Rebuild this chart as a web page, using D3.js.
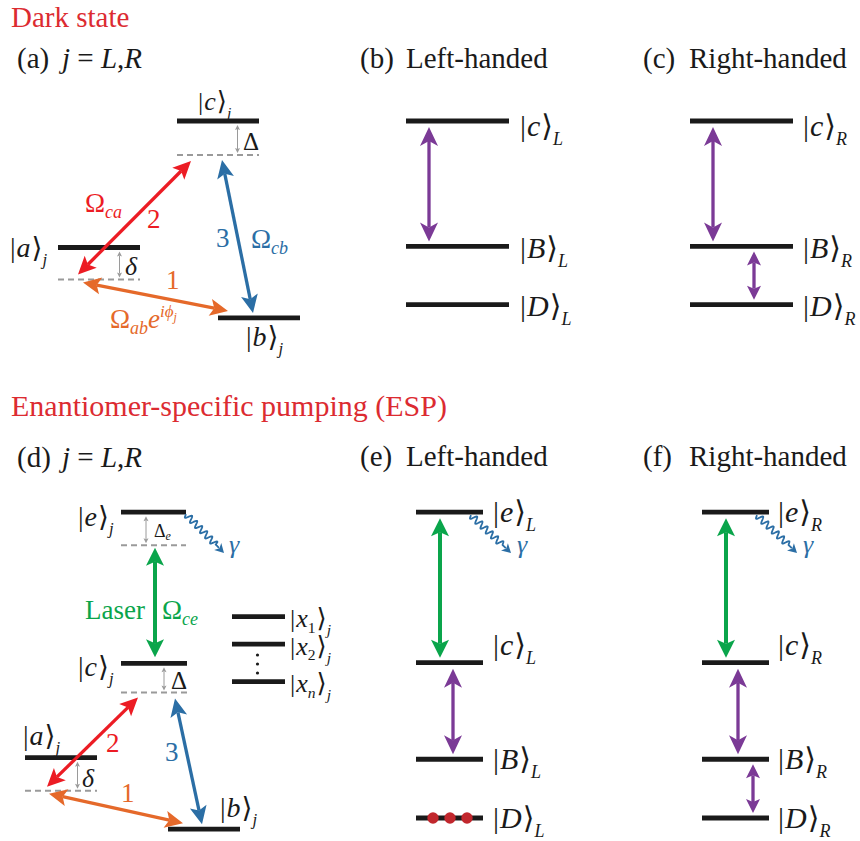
<!DOCTYPE html>
<html><head><meta charset="utf-8">
<script src="https://cdn.jsdelivr.net/npm/d3@7"></script>
<style>body{margin:0;background:#fff} svg{display:block} text{font-family:"Liberation Serif","DejaVu Serif",serif}</style>
</head><body><svg id="chart" width="860" height="841"></svg>
<script>
// ================= DATA =================
const sectionTitles = ["Dark state", "Enantiomer-specific pumping (ESP)"];
const panelTags = ["(a)", "(b)", "(c)", "(d)", "(e)", "(f)"];
const panelHeads = ["j = L,R", "Left-handed", "Right-handed", "j = L,R", "Left-handed", "Right-handed"];

// energies in arbitrary units (top row scale 0..10, bottom row 0..15)
const levelsA   = [{id:"c", E:9.5}, {id:"a", E:3.75}, {id:"b", E:0.55}];
const detuneA   = [{id:"c", dE:1.55, sym:"Δ", sub:""}, {id:"a", dE:1.45, sym:"δ", sub:""}];
const levelsBC  = [{id:"c", E:9.5}, {id:"B", E:3.8}, {id:"D", E:1.15}];
const levelsD   = [{id:"e", E:14.9}, {id:"c", E:8.03}, {id:"a", E:3.74}, {id:"b", E:0.49}];
const detuneD   = [{id:"e", dE:1.5, sym:"Δ", sub:"e"}, {id:"c", dE:1.33, sym:"Δ", sub:""}, {id:"a", dE:1.5, sym:"δ", sub:""}];
const levelsX   = [{id:"x", sub:"1", E:10.15}, {id:"x", sub:"2", E:8.9}, {id:"x", sub:"n", E:7.2}];
const levelsEF  = [{id:"e", E:14.9}, {id:"c", E:8.06}, {id:"B", E:3.67}, {id:"D", E:1.0}];
const transitionLabels = ["1", "2", "3"];
const rabiLabels = [{sym:"Ω", sub:"ca"}, {sym:"Ω", sub:"cb"}, {sym:"Ω", sub:"ab"}, {sym:"Ω", sub:"ce"}];
const populationDL = [1, 2, 3];   // molecules accumulated in |D>_L

// ================= STYLE / LAYOUT =================
const C = {red:"#ec1c24", redT:"#dc2b31", blue:"#2b6ea5", orange:"#e5692a", purple:"#7b3a96",
           green:"#0aa54b", black:"#1a1a1a", gray:"#9a9a9a", dot:"#c1272d"};
const FONT = "Liberation Serif, DejaVu Serif, serif";
const yTop = d3.scaleLinear().domain([0, 10]).range([330, 110]);
const yBot = d3.scaleLinear().domain([0, 15]).range([840, 510]);

const svg = d3.select("#chart");
const g = svg.append("g");

// ---------- helpers ----------
function rich(x, y, parts, opt = {}) {
  const t = g.append("text").attr("x", x).attr("y", y)
    .attr("font-family", FONT).attr("font-size", opt.size || 28)
    .attr("fill", opt.color || C.black);
  let shift = 0;
  parts.forEach(p => {
    const s = p.sh || 0;
    const ts = t.append("tspan").text(p.t).attr("dy", s - shift);
    shift = s;
    if (p.i) ts.attr("font-style", "italic");
    if (p.s) ts.attr("font-size", p.s);
    if (p.x !== undefined) ts.attr("x", p.x);
    if (p.dx) ts.attr("dx", p.dx);
  });
  return t;
}
function ket(x, y, letter, sub, size, color, inner, innerItalic) {
  const parts = [{t:"|"}, {t:letter, i:true, dx:1}];
  if (inner) parts.push({t:inner, i:!!innerItalic, s:size*0.6, sh:size*0.22});
  parts.push({t:"⟩", sh:0, dx:1});
  parts.push({t:sub, i:true, s:size*0.6, sh:size*0.3});
  rich(x, y, parts, {size, color});
}
function levelLine(x1, x2, y) {
  g.append("line").attr("x1", x1).attr("x2", x2).attr("y1", y).attr("y2", y)
    .attr("stroke", C.black).attr("stroke-width", 4.8);
}
function dashLine(x1, x2, y) {
  g.append("line").attr("x1", x1).attr("x2", x2).attr("y1", y).attr("y2", y)
    .attr("stroke", C.gray).attr("stroke-width", 2).attr("stroke-dasharray", "6,4");
}
const line = d3.line();
function head(tip, d, L, W, n, color) {
  const px = -d[1], py = d[0];
  const b = [tip[0] - L*d[0], tip[1] - L*d[1]];
  const pts = [tip, [b[0] + W*px, b[1] + W*py], [tip[0] - (L-n)*d[0], tip[1] - (L-n)*d[1]], [b[0] - W*px, b[1] - W*py]];
  g.append("path").attr("d", line(pts) + "Z").attr("fill", color);
}
function arrow(p1, p2, color, o = {}) {
  const w = o.w || 3.3, L = o.L || 18, W = o.W || 8.5, n = o.n || 4, both = o.both !== false;
  const dx = p2[0]-p1[0], dy = p2[1]-p1[1], len = Math.hypot(dx, dy);
  const d = [dx/len, dy/len];
  const s = both ? [p1[0] + (L-n)*d[0], p1[1] + (L-n)*d[1]] : p1;
  const e = [p2[0] - (L-n)*d[0], p2[1] - (L-n)*d[1]];
  g.append("line").attr("x1", s[0]).attr("y1", s[1]).attr("x2", e[0]).attr("y2", e[1])
    .attr("stroke", color).attr("stroke-width", w);
  head(p2, d, L, W, n, color);
  if (both) head(p1, [-d[0], -d[1]], L, W, n, color);
}
function smallGray(x, y1, y2) {
  arrow([x, y1], [x, y2], C.gray, {w:1, L:5, W:2.5, n:1});
}
function wavy(p0, p1, color) {
  const dx = p1[0]-p0[0], dy = p1[1]-p0[1], len = Math.hypot(dx, dy);
  const d = [dx/len, dy/len], nrm = [-d[1], d[0]];
  const L = 9, waveEnd = len - L - 3, A = 3.2, lam = 7.2;
  const pts = [];
  for (let s = 0; s <= len - L + 2; s += 0.5) {
    const off = s <= waveEnd ? A * Math.sin(2*Math.PI*s/lam) : 0;
    pts.push([p0[0] + d[0]*s + nrm[0]*off, p0[1] + d[1]*s + nrm[1]*off]);
  }
  g.append("path").attr("d", line(pts)).attr("fill", "none").attr("stroke", color).attr("stroke-width", 1.8);
  head(p1, d, L, 5, 2.5, color);
}
const GAP = 5;
const find = (arr, id) => arr.find(v => v.id === id);

// ---------- section titles ----------
rich(11, 27, [{t:sectionTitles[0]}], {size:29, color:C.redT});
rich(11, 416, [{t:sectionTitles[1]}], {size:30, color:C.redT});

// ---------- panel headings ----------
function jHead(tag, x, y) {
  rich(x, y, [{t:tag}, {t:"j", i:true, x:x+45}, {t:" = "}, {t:"L", i:true}, {t:","}, {t:"R", i:true}], {size:29});
}
jHead(panelTags[0], 17, 68);
jHead(panelTags[3], 17, 467);
[[1, 360, 68], [2, 643, 68], [4, 360, 466], [5, 643, 466]].forEach(([k, x, y]) => {
  rich(x, y, [{t:panelTags[k]}, {t:panelHeads[k], x:x+46}], {size:29});
});

// ================= PANEL (a) =================
{
  const spans = {c:[177,259], a:[58,140], b:[218,300]};
  levelsA.forEach(l => levelLine(spans[l.id][0], spans[l.id][1], yTop(l.E)));
  const det = {};
  detuneA.forEach(dt => {
    const L0 = find(levelsA, dt.id); det[dt.id] = L0.E - dt.dE;
    dashLine(spans[dt.id][0], spans[dt.id][1], yTop(det[dt.id]));
  });
  smallGray(237.5, yTop(find(levelsA,"c").E) + 4, yTop(det.c) - 2);
  smallGray(119.5, yTop(find(levelsA,"a").E) + 4, yTop(det.a) - 2);
  rich(243, 150, [{t:"Δ"}], {size:25});
  rich(125, 275, [{t:"δ", i:true}], {size:26});
  // transitions
  arrow([78, yTop(det.a) - GAP], [191, yTop(det.c) + GAP + 1], C.red);
  arrow([83, yTop(det.a) + 3], [228, yTop(find(levelsA,"b").E) - GAP - 2], C.orange);
  arrow([222, yTop(det.c) + GAP], [253, yTop(find(levelsA,"b").E) - GAP], C.blue);
  // labels
  rich(85, 212, [{t:rabiLabels[0].sym}, {t:rabiLabels[0].sub, i:true, s:18, sh:6}], {size:27, color:C.red});
  rich(147, 228, [{t:transitionLabels[1]}], {size:27, color:C.red});
  rich(216, 247, [{t:transitionLabels[2]}], {size:27, color:C.blue});
  rich(251, 248, [{t:rabiLabels[1].sym}, {t:rabiLabels[1].sub, i:true, s:18, sh:6}], {size:27, color:C.blue});
  rich(166, 289, [{t:transitionLabels[0]}], {size:27, color:C.orange});
  rich(110, 328, [{t:rabiLabels[2].sym}, {t:rabiLabels[2].sub, i:true, s:18, sh:6}, {t:"e", i:true, sh:0},
                  {t:"iϕ", i:true, s:17, sh:-11}, {t:"j", i:true, s:12, sh:-7}], {size:27, color:C.orange});
  ket(198, 110, "c", "j", 26);
  ket(10, 257, "a", "j", 28);
  ket(246, 346, "b", "j", 28);
}

// ================= PANELS (b), (c) =================
function panelBC(x1, x2, lx, sub, xArrow, xSmall) {
  levelsBC.forEach(l => {
    levelLine(x1, x2, yTop(l.E));
  });
  const yc = yTop(find(levelsBC,"c").E), yB = yTop(find(levelsBC,"B").E), yD = yTop(find(levelsBC,"D").E);
  ket(lx, yc + 15, "c", sub, 30);
  ket(lx, yB + 12, "B", sub, 30);
  ket(lx, yD + 11, "D", sub, 30);
  arrow([xArrow, yc + GAP + 1], [xArrow, yB - GAP], C.purple, {w:3.3, L:19, W:9, n:5});
  if (xSmall) arrow([xSmall, yB + GAP], [xSmall, yD - GAP], C.purple, {w:3.3, L:14, W:7, n:3});
}
panelBC(406, 509, 520, "L", 429, null);
panelBC(690, 793, 803, "R", 713, 754);

// ================= PANEL (d) =================
{
  const spans = {e:[121,186], c:[121,187], a:[25,97], b:[168,240]};
  levelsD.forEach(l => levelLine(spans[l.id][0], spans[l.id][1], yBot(l.E)));
  const det = {};
  detuneD.forEach(dt => {
    det[dt.id] = find(levelsD, dt.id).E - dt.dE;
    dashLine(spans[dt.id][0], spans[dt.id][1], yBot(det[dt.id]));
  });
  smallGray(146, yBot(find(levelsD,"e").E) + 4, yBot(det.e) - 2);
  smallGray(164, yBot(find(levelsD,"c").E) + 4, yBot(det.c) - 2);
  smallGray(77.5, yBot(find(levelsD,"a").E) + 4, yBot(det.a) - 2);
  rich(154, 537, [{t:"Δ"}, {t:"e", i:true, s:12, sh:3}], {size:18});
  rich(171, 689, [{t:"Δ"}], {size:25});
  rich(82, 787, [{t:"δ", i:true}], {size:26});
  // x levels
  levelsX.forEach(l => {
    levelLine(232, 285, yBot(l.E));
    ket(290, yBot(l.E) + 10.5, "x", "j", 26, C.black, l.sub, l.sub === "n");
  });
  [655, 664, 673].forEach(y => g.append("circle").attr("cx", 257.5).attr("cy", y).attr("r", 1.6).attr("fill", C.black));
  // wavy decay
  wavy([186, yBot(find(levelsD,"e").E) + 2], [224, 553], C.blue);
  rich(229, 553, [{t:"γ", i:true}], {size:26, color:C.blue});
  // transitions
  const yb = yBot(find(levelsD,"b").E);
  arrow([155, yBot(det.e) + 2.5], [155, yBot(find(levelsD,"c").E) - GAP - 1], C.green, {w:4, L:18, W:9, n:4});
  arrow([47, yBot(det.a) - GAP + 1], [138, yBot(det.c) + GAP], C.red);
  arrow([49, yBot(det.a) + 3], [183, yb - GAP - 1], C.orange);
  arrow([175, yBot(det.c) + GAP + 1], [202, yb - GAP], C.blue);
  rich(85, 619, [{t:"Laser"}], {size:27, color:C.green});
  rich(162, 619, [{t:rabiLabels[3].sym}, {t:rabiLabels[3].sub, i:true, s:18, sh:6}], {size:27, color:C.green});
  rich(106, 752, [{t:transitionLabels[1]}], {size:27, color:C.red});
  rich(165, 761, [{t:transitionLabels[2]}], {size:27, color:C.blue});
  rich(121, 802, [{t:transitionLabels[0]}], {size:27, color:C.orange});
  ket(78, 526, "e", "j", 28);
  ket(78, 676, "c", "j", 28);
  ket(23, 745, "a", "j", 28);
  ket(220, 817, "b", "j", 28);
}

// ================= PANELS (e), (f) =================
function panelEF(x1, x2, lx, sub, xG, xP, xSmall, pop) {
  levelsEF.forEach(l => levelLine(x1, x2, yBot(l.E)));
  const ye = yBot(find(levelsEF,"e").E), yc = yBot(find(levelsEF,"c").E),
        yB = yBot(find(levelsEF,"B").E), yD = yBot(find(levelsEF,"D").E);
  ket(lx, ye + 10, "e", sub, 30);
  ket(lx, yc - 8, "c", sub, 30);
  ket(lx, yB + 10, "B", sub, 30);
  ket(lx, yD + 10, "D", sub, 30);
  arrow([xG, ye + GAP + 1], [xG, yc - GAP], C.green, {w:4, L:18, W:9, n:4});
  arrow([xP, yc + GAP + 1], [xP, yB - GAP], C.purple, {w:3.3, L:19, W:9, n:5});
  if (xSmall) arrow([xSmall, yB + GAP], [xSmall, yD - GAP], C.purple, {w:3.3, L:14, W:7, n:3});
  wavy([x2 - 12, ye + 3], [x2 + 28, 553], C.blue);
  rich(x2 + 34, 553, [{t:"γ", i:true}], {size:26, color:C.blue});
  if (pop) {
    const xs = d3.scalePoint().domain(pop).range([x1 + 17, x1 + 51]);
    g.selectAll(null).data(pop).enter().append("circle")
      .attr("cx", d => xs(d)).attr("cy", yD).attr("r", 5.7).attr("fill", C.dot);
  }
}
panelEF(416, 483, 493, "L", 440, 453, null, populationDL);
panelEF(702, 769, 778, "R", 726, 738, 753, null);
</script></body></html>
